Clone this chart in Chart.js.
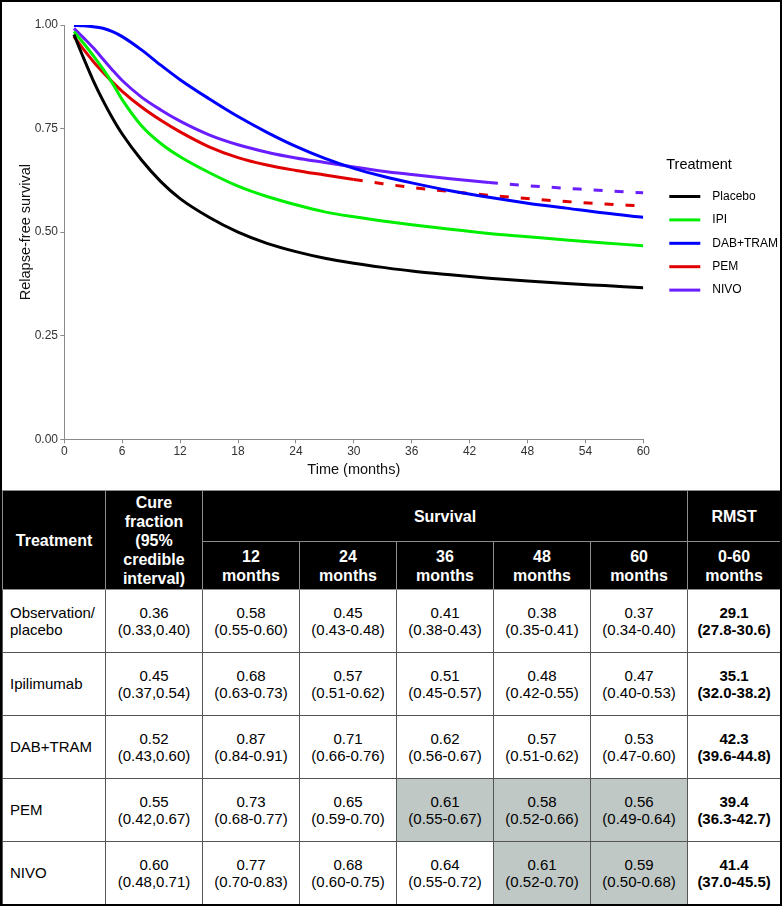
<!DOCTYPE html>
<html>
<head>
<meta charset="utf-8">
<script src="https://cdn.jsdelivr.net/npm/chart.js@4"></script>
<style>
  body { margin: 0; background: #fff; font-family: "Liberation Sans", Arial, sans-serif; }
  #frame { position: absolute; left: 0; top: 0; width: 782px; height: 906px; box-sizing: border-box;
           border: 2px solid #000; pointer-events: none; z-index: 2; }
  #chartBox { position: absolute; left: 0; top: 0; width: 782px; height: 488px; }
  #tbl { position: absolute; left: 2px; top: 490px; width: 778px; border-collapse: collapse; table-layout: fixed; }
  #tbl th { background: #000; color: #fff; font-weight: bold; font-size: 16px; line-height: 19px;
            border: 1px solid #8c8c8c; padding: 0; text-align: center; }
  #tbl td { font-size: 15px; line-height: 17.5px; border: 1.5px solid #555; text-align: center; padding: 0; color: #000; }
  #tbl td.name { text-align: left; padding-left: 7px; }
  #tbl td.rmst { font-weight: bold; }
  #tbl td.hl { background: #bfc8c5; }
</style>
</head>
<body>
  <div id="chartBox"><canvas id="myChart"></canvas></div>
  <table id="tbl">
    <colgroup>
      <col style="width:103px"><col style="width:97px"><col style="width:97px"><col style="width:97px">
      <col style="width:97px"><col style="width:97px"><col style="width:97px"><col style="width:93px">
    </colgroup>
    <thead>
      <tr style="height:51px">
        <th rowspan="2">Treatment</th>
        <th rowspan="2">Cure<br>fraction<br>(95%<br>credible<br>interval)</th>
        <th colspan="5">Survival</th>
        <th>RMST</th>
      </tr>
      <tr style="height:48px">
        <th>12<br>months</th><th>24<br>months</th><th>36<br>months</th><th>48<br>months</th><th>60<br>months</th><th>0-60<br>months</th>
      </tr>
    </thead>
    <tbody id="tbody"></tbody>
  </table>
  <div id="frame"></div>
  <script>
    // curve readings (relapse-free survival by month)
    const months = [1, 2, 3, 4, 5, 6, 8, 10, 12, 15, 18, 21, 24, 27, 30, 33, 36, 40, 44, 48, 52, 56, 60]
    const placebo = [0.977, 0.920, 0.866, 0.818, 0.775, 0.737, 0.674, 0.622, 0.581, 0.536, 0.500, 0.473, 0.453, 0.437, 0.425, 0.415, 0.406, 0.397, 0.389, 0.382, 0.376, 0.371, 0.366]
    const ipi = [0.984, 0.956, 0.926, 0.894, 0.859, 0.820, 0.757, 0.714, 0.682, 0.644, 0.611, 0.586, 0.566, 0.549, 0.537, 0.527, 0.518, 0.507, 0.497, 0.489, 0.481, 0.474, 0.467]
    const dabTram = [0.999, 0.998, 0.996, 0.992, 0.984, 0.972, 0.940, 0.903, 0.868, 0.822, 0.779, 0.741, 0.707, 0.678, 0.654, 0.635, 0.619, 0.600, 0.584, 0.570, 0.558, 0.546, 0.536]
    const pem = [0.972, 0.941, 0.912, 0.886, 0.862, 0.840, 0.802, 0.770, 0.742, 0.706, 0.680, 0.662, 0.649, 0.638, 0.627, 0.617, 0.608, 0.598, 0.589, 0.581, 0.574, 0.568, 0.563]
    const nivo = [0.992, 0.969, 0.945, 0.918, 0.891, 0.866, 0.826, 0.795, 0.768, 0.735, 0.711, 0.693, 0.679, 0.668, 0.657, 0.647, 0.639, 0.629, 0.620, 0.612, 0.606, 0.600, 0.595]
    const seriesNames = ['Placebo', 'IPI', 'DAB+TRAM', 'PEM', 'NIVO']
    const seriesColors = ['#000000', '#00ee00', '#0000ff', '#e00000', '#6a1eff']
    const dashedFrom = [null, null, null, 30, 44]   // extrapolated beyond follow-up
    const xTicks = [0, 6, 12, 18, 24, 30, 36, 42, 48, 54, 60]
    const yTicks = [0, 0.25, 0.5, 0.75, 1]

    // table values
    const tableNames = [['Observation/', 'placebo'], ['Ipilimumab'], ['DAB+TRAM'], ['PEM'], ['NIVO']]
    const cureFraction = [['0.36', '(0.33,0.40)'], ['0.45', '(0.37,0.54)'], ['0.52', '(0.43,0.60)'], ['0.55', '(0.42,0.67)'], ['0.60', '(0.48,0.71)']]
    const surv12 = [['0.58', '(0.55-0.60)'], ['0.68', '(0.63-0.73)'], ['0.87', '(0.84-0.91)'], ['0.73', '(0.68-0.77)'], ['0.77', '(0.70-0.83)']]
    const surv24 = [['0.45', '(0.43-0.48)'], ['0.57', '(0.51-0.62)'], ['0.71', '(0.66-0.76)'], ['0.65', '(0.59-0.70)'], ['0.68', '(0.60-0.75)']]
    const surv36 = [['0.41', '(0.38-0.43)'], ['0.51', '(0.45-0.57)'], ['0.62', '(0.56-0.67)'], ['0.61', '(0.55-0.67)'], ['0.64', '(0.55-0.72)']]
    const surv48 = [['0.38', '(0.35-0.41)'], ['0.48', '(0.42-0.55)'], ['0.57', '(0.51-0.62)'], ['0.58', '(0.52-0.66)'], ['0.61', '(0.52-0.70)']]
    const surv60 = [['0.37', '(0.34-0.40)'], ['0.47', '(0.40-0.53)'], ['0.53', '(0.47-0.60)'], ['0.56', '(0.49-0.64)'], ['0.59', '(0.50-0.68)']]
    const rmst = [['29.1', '(27.8-30.6)'], ['35.1', '(32.0-38.2)'], ['42.3', '(39.6-44.8)'], ['39.4', '(36.3-42.7)'], ['41.4', '(37.0-45.5)']]
    // shaded cells: [row, survival column index 0..4]
    const shaded = [[3, 2], [3, 3], [3, 4], [4, 3], [4, 4]]

    const FONT = "'Liberation Sans', Arial, sans-serif"

    // build table body
    const tbody = document.getElementById('tbody')
    const survCols = [surv12, surv24, surv36, surv48, surv60]
    tableNames.forEach((name, r) => {
      const tr = document.createElement('tr')
      tr.style.height = '63px'
      let html = '<td class="name">' + name.join('<br>') + '</td>'
      html += '<td>' + cureFraction[r].join('<br>') + '</td>'
      survCols.forEach((col, c) => {
        const hl = shaded.some(s => s[0] === r && s[1] === c)
        html += '<td' + (hl ? ' class="hl"' : '') + '>' + col[r].join('<br>') + '</td>'
      })
      html += '<td class="rmst">' + rmst[r].join('<br>') + '</td>'
      tr.innerHTML = html
      tbody.appendChild(tr)
    })

    const allSeries = [placebo, ipi, dabTram, pem, nivo]

    const sideLegend = {
      id: 'sideLegend',
      afterDraw(chart) {
        const ctx = chart.ctx
        const a = chart.chartArea
        const x0 = a.right + 26
        ctx.save()
        ctx.fillStyle = '#000'
        ctx.textBaseline = 'middle'
        ctx.font = '14.5px ' + FONT
        ctx.fillText('Treatment', x0 - 3, a.top + 140)
        chart.data.datasets.forEach((ds, i) => {
          const y = a.top + 171.5 + i * 23.4
          ctx.strokeStyle = ds.borderColor
          ctx.lineWidth = 3
          ctx.beginPath()
          ctx.moveTo(x0, y)
          ctx.lineTo(x0 + 31, y)
          ctx.stroke()
          ctx.font = '12px ' + FONT
          ctx.fillText(ds.label, x0 + 43, y)
        })
        ctx.restore()
      }
    }

    const ctx = document.getElementById('myChart').getContext('2d')
    const chart = new Chart(ctx, {
      type: 'line',
      data: {
        datasets: allSeries.map((vals, i) => ({
          label: seriesNames[i],
          data: months.map((m, j) => ({ x: m, y: vals[j] })),
          borderColor: seriesColors[i],
          borderWidth: 3,
          borderCapStyle: 'butt',
          pointRadius: 0,
          cubicInterpolationMode: 'monotone',
          segment: {
            borderDash: c => (dashedFrom[i] !== null && c.p0.parsed.x >= dashedFrom[i]) ? [9, 12] : undefined
          }
        }))
      },
      options: {
        responsive: true,
        maintainAspectRatio: false,
        animation: false,
        layout: { padding: { left: 0, top: 25, right: 138.7, bottom: 0 } },
        plugins: { legend: { display: false }, tooltip: { enabled: false } },
        scales: {
          x: {
            type: 'linear', min: 0, max: 60,
            afterBuildTicks: s => { s.ticks = xTicks.map(v => ({ value: v })) },
            afterFit: s => { s.height = 48.7 },
            ticks: { color: '#333', font: { family: FONT, size: 12 }, padding: 1 },
            grid: { drawOnChartArea: false, drawTicks: true, tickLength: 4, color: '#8a8a8a' },
            border: { display: true, color: '#8a8a8a', width: 1 },
            title: { display: true, text: 'Time (months)', color: '#111', font: { family: FONT, size: 14.5 }, padding: { bottom: 9.3, top: 0 } }
          },
          y: {
            min: 0, max: 1,
            afterBuildTicks: s => { s.ticks = yTicks.map(v => ({ value: v })) },
            afterFit: s => { s.width = 64.3 },
            ticks: { color: '#333', font: { family: FONT, size: 12 }, padding: 2.3, callback: v => v.toFixed(2) },
            grid: { drawOnChartArea: false, drawTicks: true, tickLength: 4, color: '#8a8a8a' },
            border: { display: true, color: '#8a8a8a', width: 1 },
            title: { display: true, text: 'Relapse-free survival', color: '#111', font: { family: FONT, size: 14.5 }, padding: { top: 17.3, bottom: 0 } }
          }
        }
      },
      plugins: [sideLegend]
    })
  </script>
</body>
</html>
